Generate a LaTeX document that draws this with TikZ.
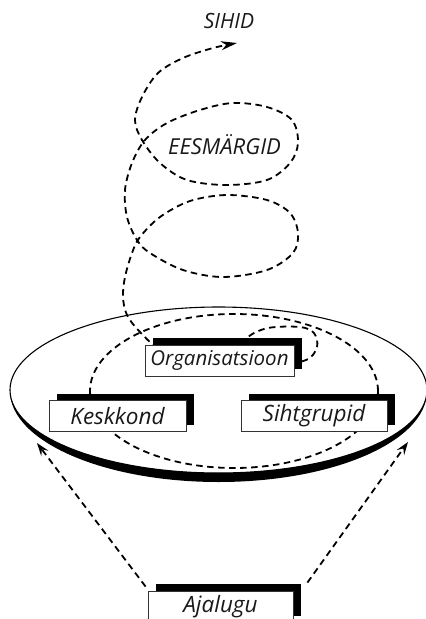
\documentclass[tikz,border=0pt]{standalone}
\usepackage{fontspec}
\setmainfont{Open Sans}
\usetikzlibrary{arrows.meta,shadows}
\tikzset{
  dsh/.style={line width=1.8pt, dash pattern=on 6.5pt off 4.5pt},
  lbl/.style={draw=black!80, line width=0.8pt, fill=white, inner sep=0pt,
    minimum height=31pt, font=\itshape\fontsize{22.5}{22.5}\selectfont, text=black!90,
    general shadow={fill=black, shadow xshift=8pt, shadow yshift=7pt}},
  ttl/.style={font=\itshape\fontsize{22}{22}\selectfont, text=black!90},
}
\begin{document}
\begin{tikzpicture}[x=1pt,y=-1pt]
\useasboundingbox (0,0) rectangle (426,619);
\clip (0,0) rectangle (426,619);
% disc
\fill[black] (10,390) arc[start angle=180,end angle=360,x radius=208.5,y radius=-83]
  -- (427,391) arc[start angle=0,end angle=-180,x radius=208.5,y radius=-91] -- cycle;
\draw[line width=1.1pt] (218.5,390) ellipse[x radius=208.5,y radius=83];
% inner dashed ellipse
\draw[dsh] (234,391) ellipse[x radius=144,y radius=77];
% spiral
\draw[dsh,-{Stealth[length=16pt,width=9pt,inset=5pt]}] plot[smooth,tension=0.55] coordinates {
(240,356) (247,338) (268,328) (300,327) (314,333) (317,347) (306,360) (270,366) (200,364)
(163,352) (140,332) (127,315) (123,297) (125,277) (132,253) (140,237) (160,217) (190,201)
(227,195) (267,200) (290,213) (298,233) (293,253) (267,270) (223,277) (183,270) (150,253)
(137,240) (127,217) (125,190) (132,163) (145,140) (167,123) (200,110) (233,103) (267,107)
(292,120) (298,143) (290,163) (267,180) (227,185) (187,180) (160,163) (142,140) (135,120)
(142,97) (158,73) (183,58) (213,48) (237,43)};
% boxes
\node[lbl, minimum width=149pt, font=\itshape\fontsize{20.5}{20.5}\selectfont] (org) at (219.5,360.5) {Organisatsioon};
\node[lbl, minimum width=137pt] (kesk) at (117.5,416) {Keskkond};
\node[lbl, minimum width=146pt] (siht) at (314,416) {Sihtgrupid};
\node[lbl, minimum width=145pt, minimum height=32pt] (aja) at (220.5,607) {Ajalugu};
% labels
\node[ttl, font=\itshape\fontsize{21}{21}\selectfont] (sihid) at (229,21) {SIHID};
\node[ttl] (ees) at (224.5,145) {EESMÄRGID};
% arrows
\coordinate (lt) at (37,443);
\coordinate (rt) at (408,442);
\draw[dsh,-{Stealth[length=13pt,width=9pt,inset=5pt]}] (aja.north west) ++(-2,-4) -- (lt);
\draw[dsh,-{Stealth[length=13pt,width=9pt,inset=5pt]}] (aja.north east) ++(14,-8) -- (rt);
\end{tikzpicture}
\end{document}
